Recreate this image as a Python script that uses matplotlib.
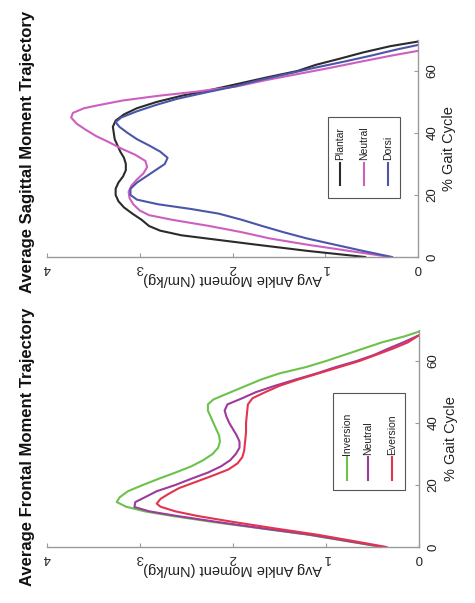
import matplotlib
matplotlib.use("Agg")
import matplotlib.pyplot as plt
from matplotlib.patches import Rectangle
from matplotlib import font_manager

names = {f.name for f in font_manager.fontManager.ttflist}
fam = [n for n in ["Liberation Sans Narrow", "Liberation Sans", "DejaVu Sans"] if n in names]
plt.rcParams["font.family"] = fam

# ---------------- data: Sagittal ----------------
sag_plantar_g = [0, 2, 4, 5.5, 7, 8.5, 10, 12, 14, 16, 18, 20, 22, 24, 26, 28, 30, 32, 34, 36, 38, 40, 42, 44, 46, 48, 50, 52, 54, 56, 58, 60, 62, 64, 66, 68, 69.5]
sag_plantar_m = [0.57, 1.2, 1.75, 2.15, 2.55, 2.78, 2.9, 2.98, 3.08, 3.17, 3.23, 3.26, 3.26, 3.23, 3.18, 3.15, 3.15, 3.17, 3.21, 3.24, 3.27, 3.28, 3.29, 3.26, 3.17, 3.03, 2.82, 2.55, 2.22, 1.92, 1.62, 1.3, 1.1, 0.84, 0.59, 0.3, 0.0]

sag_neutral_g = [0, 2, 4, 6, 8, 10, 12, 13.5, 15, 17, 19, 21, 23, 25, 27, 29, 31, 33, 35, 37, 39, 41, 43, 45, 46.5, 48, 49, 50.5, 52, 53.3, 55, 57, 59, 61, 63, 65, 66.5]
sag_neutral_m = [0.3, 0.75, 1.2, 1.6, 1.9, 2.25, 2.65, 2.9, 3.0, 3.07, 3.11, 3.12, 3.09, 3.03, 2.96, 2.92, 2.94, 3.05, 3.2, 3.33, 3.47, 3.58, 3.68, 3.74, 3.72, 3.6, 3.44, 3.18, 2.8, 2.4, 1.96, 1.65, 1.3, 0.95, 0.62, 0.28, 0.0]

sag_dorsi_g = [0, 2, 4, 6, 8, 10, 12, 14, 15.5, 17, 18.5, 20, 22, 24, 26, 28, 30, 32, 34, 36, 38, 40, 42, 43.5, 45, 47, 49, 51, 53, 55, 57, 59, 61, 63, 65, 67, 68.4]
sag_dorsi_m = [0.28, 0.6, 0.9, 1.2, 1.45, 1.68, 1.9, 2.15, 2.45, 2.8, 3.03, 3.1, 3.1, 3.03, 2.93, 2.83, 2.73, 2.7, 2.78, 2.9, 3.03, 3.13, 3.22, 3.26, 3.2, 3.03, 2.83, 2.6, 2.3, 1.98, 1.72, 1.42, 1.12, 0.8, 0.5, 0.22, 0.0]

# ---------------- data: Frontal ----------------
fr_inversion_g = [0, 2, 4, 6, 8, 10, 11.5, 13, 14.5, 16, 18, 20, 22, 24, 26, 28, 30, 32, 34, 36, 38, 40, 42, 44, 46, 47.6, 49, 50.5, 52, 54, 56, 58, 60, 62, 64, 66, 68, 69.5]
fr_inversion_m = [0.4, 0.8, 1.2, 1.7, 2.2, 2.65, 2.95, 3.15, 3.25, 3.22, 3.13, 2.97, 2.8, 2.62, 2.45, 2.32, 2.22, 2.16, 2.14, 2.15, 2.18, 2.21, 2.24, 2.27, 2.27, 2.21, 2.1, 1.98, 1.86, 1.7, 1.5, 1.22, 1.0, 0.8, 0.6, 0.4, 0.15, 0.0]

fr_neutral_g = [0, 2, 4, 6, 8, 10, 11.5, 12.9, 14.5, 16, 18, 20, 22, 24, 26, 28, 30, 32, 34, 36, 38, 40, 42, 44, 46, 48, 50, 52, 54, 56, 58, 60, 62, 64, 66, 68.3]
fr_neutral_m = [0.38, 0.78, 1.18, 1.68, 2.15, 2.6, 2.9, 3.06, 3.05, 2.95, 2.82, 2.62, 2.45, 2.27, 2.13, 2.03, 1.97, 1.93, 1.93, 1.96, 2.0, 2.04, 2.07, 2.09, 2.06, 1.9, 1.75, 1.55, 1.33, 1.1, 0.9, 0.67, 0.48, 0.33, 0.17, 0.0]

fr_eversion_g = [0, 2, 4, 6, 8, 10, 11.5, 13, 14, 15.5, 17, 19, 21, 23, 25, 27, 29, 31, 34, 37, 40, 43, 46, 48, 50, 52, 54, 56, 58, 60, 62, 64, 66, 68.3]
fr_eversion_m = [0.35, 0.72, 1.1, 1.55, 1.98, 2.38, 2.62, 2.78, 2.82, 2.78, 2.7, 2.58, 2.4, 2.22, 2.05, 1.95, 1.9, 1.88, 1.87, 1.86, 1.86, 1.85, 1.84, 1.79, 1.65, 1.5, 1.3, 1.08, 0.86, 0.64, 0.46, 0.28, 0.12, 0.0]

moment_ticks = [0, 1, 2, 3, 4]
gait_ticks = [0, 20, 40, 60]

W, H = 475, 603
fig = plt.figure(figsize=(W / 100, H / 100), dpi=100)

def px_axes(x0, x1, ytop, ybot):
    return fig.add_axes([x0 / W, 1 - ybot / H, (x1 - x0) / W, (ybot - ytop) / H])

ax_s = px_axes(47, 418, 40, 257)
ax_f = px_axes(47, 419, 330, 547)

spine_c = "#9a9a9a"

def style(ax):
    ax.set_xlim(4, 0)
    ax.set_ylim(0, 70)
    for s in ["top", "left"]:
        ax.spines[s].set_visible(False)
    for s in ["bottom", "right"]:
        ax.spines[s].set_color(spine_c)
        ax.spines[s].set_linewidth(1.0)
    ax.yaxis.tick_right()
    ax.yaxis.set_label_position("right")
    ax.set_xticks(moment_ticks)
    ax.set_yticks(gait_ticks)
    ax.tick_params(axis="both", direction="in", length=3, color=spine_c,
                   labelsize=9.5, labelcolor="#222222")
    ax.tick_params(axis="y", pad=6)
    for t in ax.get_xticklabels():
        t.set_rotation(180)
    for t in ax.get_yticklabels():
        t.set_rotation(90)
        t.set_va("center")
    ax.set_xlabel("Avg Ankle Moment (Nm/kg)", rotation=180, fontsize=10.5,
                  color="#222222", labelpad=-1)
    ax.set_ylabel("% Gait Cycle", rotation=90, fontsize=10.5, color="#222222",
                  labelpad=3)

style(ax_s)
style(ax_f)

lw = 1.5
sag = [("Plantar", sag_plantar_m, sag_plantar_g, "#2b2b2b"),
       ("Neutral", sag_neutral_m, sag_neutral_g, "#cc5fc0"),
       ("Dorsi", sag_dorsi_m, sag_dorsi_g, "#4b56a8")]
fr = [("Inversion", fr_inversion_m, fr_inversion_g, "#6cc24a"),
      ("Neutral", fr_neutral_m, fr_neutral_g, "#9c3a9e"),
      ("Eversion", fr_eversion_m, fr_eversion_g, "#e3344f")]

for name, m, g, c in sag:
    ax_s.plot(m, g, color=c, lw=lw, solid_joinstyle="round")
for name, m, g, c in fr:
    ax_f.plot(m, g, color=c, lw=lw, solid_joinstyle="round")

def legend(ax, series, box, xs, ly0, ly1, ty):
    x0, x1, y0, y1 = box
    ax.add_patch(Rectangle((x0, y0), x1 - x0, y1 - y0, transform=ax.transAxes,
                           fill=True, facecolor="white", edgecolor="#555555",
                           lw=0.8, clip_on=False, zorder=5))
    for (name, m, g, c), x in zip(series, xs):
        ax.plot([x, x], [ly0, ly1], color=c, lw=lw, transform=ax.transAxes,
                clip_on=False, zorder=6)
        ax.text(x, ty, name, rotation=90, ha="center", va="bottom",
                fontsize=7.5, color="#222222", transform=ax.transAxes, zorder=6)

legend(ax_s, sag, (0.757, 0.951, 0.272, 0.645), [0.79, 0.854, 0.919], 0.332, 0.433, 0.447)
legend(ax_f, fr, (0.769, 0.962, 0.263, 0.71), [0.806, 0.863, 0.927], 0.309, 0.415, 0.424)

fig.text(28 / W, 1 - 152 / H, "Average Sagittal Moment Trajectory", rotation=90,
         ha="center", va="center", fontsize=12, fontweight="bold", color="#111111")
fig.text(28 / W, 1 - 447 / H, "Average Frontal Moment Trajectory", rotation=90,
         ha="center", va="center", fontsize=12, fontweight="bold", color="#111111")

fig.savefig("out.png", dpi=100)
